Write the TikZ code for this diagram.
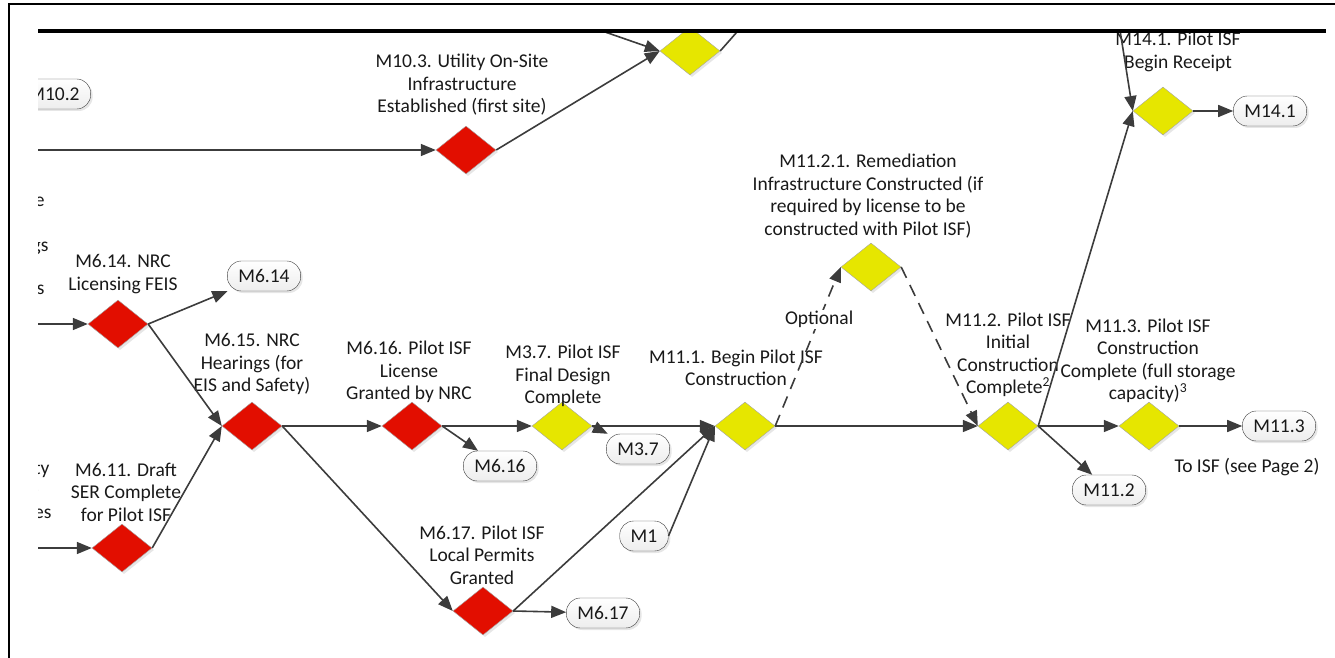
\documentclass[tikz,border=0pt]{standalone}
\usepackage{fontspec}
\setmainfont{Carlito}
\usetikzlibrary{
  arrows.meta,
  positioning,
  shapes.geometric,
  shadows
}
\definecolor{gatered}{RGB}{226,14,0}
\definecolor{gateyellow}{RGB}{230,230,0}
\definecolor{flow}{RGB}{60,60,60}

\begin{document}
\begin{tikzpicture}[x=1pt, y=-1pt,
  every node/.style={font=\fontsize{19.5}{22.5}\selectfont, text=black!90},
  redgate/.style={diamond, draw=black!35, fill=gatered, minimum width=60pt,
                  minimum height=48pt, inner sep=0pt,
                  drop shadow={opacity=0.2, shadow xshift=2pt, shadow yshift=-2pt}},
  yellowgate/.style={redgate, fill=gateyellow},
  link/.style={draw=black!75, rounded corners=14pt, top color=white,
               bottom color=black!7, minimum height=30pt, inner xsep=11pt,
               drop shadow={opacity=0.2, shadow xshift=2pt, shadow yshift=-2pt}},
  milestone/.style={align=center},
  flowline/.style={draw=flow, line width=1.6pt},
  flowarrow/.style={flowline, -{Triangle[length=15pt, width=12pt]}},
  optional/.style={flowarrow, dash pattern=on 12pt off 8pt},
]
\useasboundingbox (0,0) rectangle (1335,658);

% page frame
\draw[line width=1.2pt] (9,658) -- (9,4) -- (1335,4);

\begin{scope}
\clip (38,32) rectangle (1335,658);

% cut-off text at the left edge
\node[anchor=east] (frag1) at (48,202) {e};
\node[anchor=east] (frag2) at (52,248) {gs};
\node[anchor=east] (frag3) at (48,290) {s};
\node[anchor=east] (frag4) at (53,470) {ty};
\node[anchor=east] (frag5) at (43,492) {,};
\node[anchor=east] (frag6) at (55,514) {es};

% gates
\node[redgate] (d103) at (466,150) {};
\node[yellowgate] (dtop) at (690,51) {};
\node[redgate] (d614) at (118,324) {};
\node[redgate] (d615) at (252,426) {};
\node[redgate] (d611) at (122,548) {};
\node[redgate] (d616) at (412,426) {};
\node[yellowgate] (d37) at (562,426) {};
\node[yellowgate] (d111) at (745,426) {};
\node[redgate] (d617) at (483,611) {};
\node[yellowgate] (d1121) at (871,267) {};
\node[yellowgate] (d112) at (1008,426) {};
\node[yellowgate] (d113) at (1149,426) {};
\node[yellowgate] (d141) at (1163,111) {};

% off-page links
\node[link] (p102) at (54,94) {M10.2};
\node[link] (p614) at (264,276) {M6.14};
\node[link] (p616) at (500,466) {M6.16};
\node[link] (p37) at (638,449) {M3.7};
\node[link] (pm1) at (644,536) {M1};
\node[link] (p617) at (603,613) {M6.17};
\node[link] (p112) at (1109,490) {M11.2};
\node[link] (p113) at (1279,426) {M11.3};
\node[link] (p141) at (1270,111) {M14.1};

% labels
\node[milestone] (l103) at (462,85) {M10.3. Utility On-Site\\Infrastructure\\Established (first site)};
\node[milestone] (l614) at (123,274) {M6.14. NRC\\Licensing FEIS};
\node[milestone] (l615) at (252,364) {M6.15. NRC\\Hearings (for\\EIS and Safety)};
\node[milestone] (l611) at (126,492) {M6.11. Draft\\SER Complete\\for Pilot ISF};
\node[milestone] (l616) at (409,372) {M6.16. Pilot ISF\\License\\Granted by NRC};
\node[milestone] (l37) at (563,376) {M3.7. Pilot ISF\\Final Design\\Complete};
\node[milestone] (l111) at (736,368) {M11.1. Begin Pilot ISF\\Construction};
\node[milestone] (l617) at (482,555) {M6.17. Pilot ISF\\Local Permits\\Granted};
\node[milestone] (l1121) at (868,196) {M11.2.1. Remediation\\Infrastructure Constructed (if\\required by license to be\\constructed with Pilot ISF)};
\node[milestone] (l112) at (1008,355) {M11.2. Pilot ISF\\Initial\\Construction\\Complete\textsuperscript{2}};
\node[milestone] (l113) at (1148,361) {M11.3. Pilot ISF\\Construction\\Complete (full storage\\capacity)\textsuperscript{3}};
\node[milestone] (l141) at (1178,52) {M14.1. Pilot ISF\\Begin Receipt};
\node (n113) at (1247,467) {To ISF (see Page 2)};

% free ends
\coordinate (in103) at (30,150);
\coordinate (in614) at (30,324);
\coordinate (in611) at (30,548);
\coordinate (intop) at (582,24);
\coordinate (outtop) at (744,24);
\coordinate (in141) at (1119,24);

% connectors
\draw[flowarrow] (in103) -- (d103.west);
\draw[flowarrow] (d103.east) -- (dtop.west);
\draw[flowarrow] (intop) -- (dtop.west);
\draw[flowline] (dtop.east) -- (outtop);
\draw[flowarrow] (in614) -- (d614.west);
\draw[flowarrow] (d614.east) -- (p614);
\draw[flowarrow] (d614.east) -- (d615.west);
\draw[flowarrow] (in611) -- (d611.west);
\draw[flowarrow] (d611.east) -- (d615.west);
\draw[flowarrow] (d615.east) -- (d616.west);
\draw[flowarrow] (d615.east) -- (d617.west);
\draw[flowarrow] (d616.east) -- (d37.west);
\draw[flowarrow] (d616.east) -- (p616);
\draw[flowarrow] (d37.east) -- (d111.west);
\draw[flowarrow] (d37.east) -- (p37);
\draw[flowarrow] (d617.east) -- (d111.west);
\draw[flowarrow] (d617.east) -- (p617);
\draw[flowarrow] (pm1.east) -- (d111.west);
\draw[optional] (d111.east) -- node[pos=0.67, fill=white, inner sep=1pt] (opt) {Optional} (d1121.west);
\draw[optional] (d1121.east) -- (d112.west);
\draw[flowarrow] (d111.east) -- (d112.west);
\draw[flowarrow] (d112.east) -- (d113.west);
\draw[flowarrow] (d112.east) -- (p112);
\draw[flowarrow] (d112.east) -- (d141.west);
\draw[flowarrow] (in141) -- (d141.west);
\draw[flowarrow] (d141.east) -- (p141);
\draw[flowarrow] (d113.east) -- (p113);
\end{scope}

% band rule
\draw[line width=3.5pt] (38,31) -- (1326,31);

\end{tikzpicture}
\end{document}
